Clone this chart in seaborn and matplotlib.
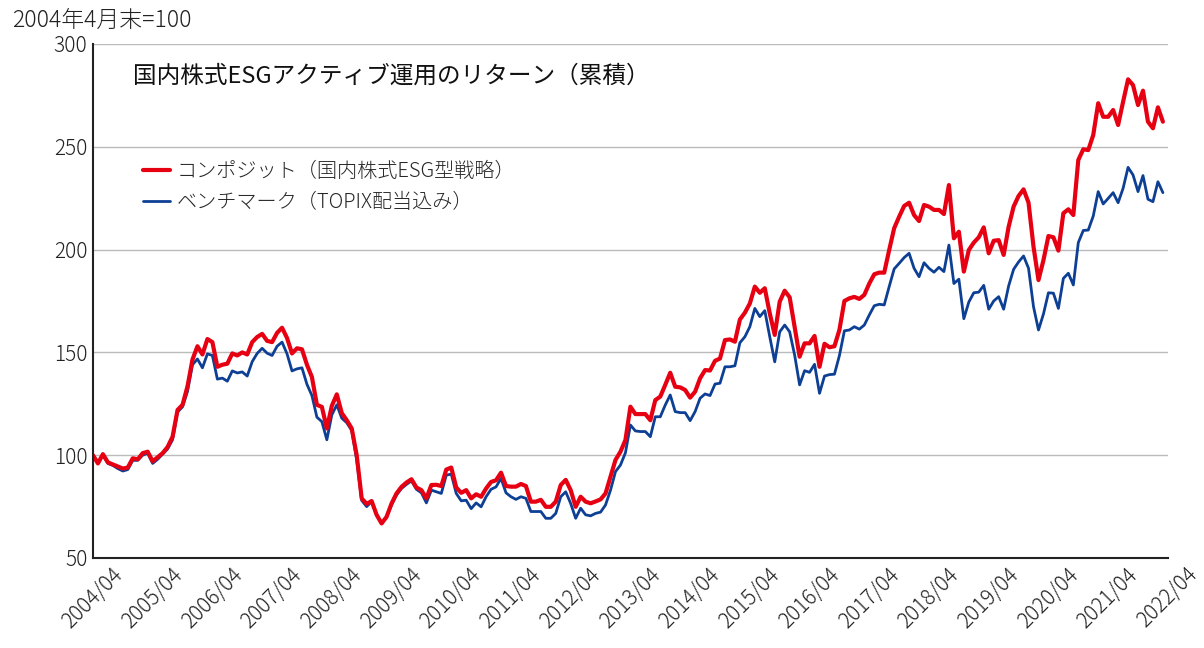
import numpy as np
import pandas as pd
import matplotlib
matplotlib.use('Agg')
import matplotlib.pyplot as plt
import seaborn as sns

# 月次の累積リターン（2004/04 = 100）、2004/04〜2022/03
composite = [
    100, 96, 100.5, 96.5, 95.5, 94.5, 93.5, 94, 98.5, 98, 101, 101.7,
    97, 99, 101, 104, 109, 122, 124.5, 133.5, 146.5, 153, 149, 156.5,
    155, 143, 144, 144.5, 149.5, 148.5, 150, 149, 155, 157.5, 159, 155.6,
    155, 159.5, 162, 157, 149.5, 152, 151.5, 144, 138, 124.5, 123.5, 113,
    124, 129.6, 120.5, 117, 113, 100, 79, 76.3, 77.7, 71, 66.8, 70,
    76.5, 81.4, 84.6, 86.7, 88.3, 84.3, 83, 79, 85.5, 85.6, 85, 93,
    94, 84.3, 81.7, 83, 79, 81, 79.8, 83.8, 87, 87.8, 91.5, 85,
    84.7, 84.7, 86, 85, 77.4, 77.4, 78.3, 74.9, 74.9, 77.4, 85.5, 88,
    83, 74.9, 79.8, 77.4, 76.6, 77.5, 78.5, 81.4, 89.5, 97.7, 101.7, 107.4,
    123.6, 120, 120, 120, 117, 126.8, 128.5, 134.2, 140.1, 133.3, 133, 131.7,
    128, 130.9, 137.4, 141.4, 141.2, 145.9, 147, 156, 156.3, 155.2, 166, 169.3,
    173.8, 182, 179, 181.2, 169, 158.5, 174.7, 180, 176.8, 162.5, 147.9, 154.4,
    154.4, 158, 143, 154.2, 152.5, 153, 161, 175, 176.3, 177, 176, 178,
    183.5, 188, 188.8, 188.8, 199.8, 210.4, 216, 221.2, 222.8, 216.8, 213.9, 221.7,
    220.9, 219.3, 219.3, 217.3, 231.4, 205.5, 208.7, 189.3, 199.8, 203.4, 206, 210.8,
    198.2, 204.3, 204.6, 197.4, 211.1, 220.9, 226.1, 229.3, 222.8, 201.4, 185.2, 194.9,
    206.6, 206, 199.5, 217.7, 219.6, 216.8, 243.6, 248.8, 248.4, 255.7, 271.2, 264.6,
    264.6, 267.9, 260.6, 271.9, 282.8, 280, 270.3, 277.3, 262.2, 259, 269.2, 262.2,
]
benchmark = [
    100, 96.5, 100, 96, 95, 93.5, 92.3, 93, 97.5, 97.5, 100, 101,
    96, 98, 100.5, 103, 107.5, 121, 123.5, 131, 144, 146.8, 142.5, 149.3,
    148.5, 137, 137.5, 136, 141, 140, 140.5, 138.5, 145.5, 149.5, 152, 149.6,
    148.5, 153, 155, 149.3, 141, 142, 142.5, 134.5, 129, 118.5, 116.3, 107.5,
    119.6, 124.5, 118, 115.8, 112, 97.7, 78, 75, 77.4, 71, 67, 70,
    75.8, 80.6, 83.8, 85.8, 87.5, 83.4, 81.7, 76.8, 83, 82.2, 81.4, 90.3,
    90.8, 81.4, 77.8, 78.1, 74, 76.8, 74.9, 79.8, 83.4, 84.6, 88.7, 81.7,
    79.8, 78.5, 79.8, 79, 72.6, 72.6, 72.6, 69.3, 69.3, 71.7, 79.8, 82.2,
    76.5, 69.3, 74.2, 71, 70.5, 71.7, 72.3, 75.8, 83, 92, 95.2, 101.2,
    114.7, 111.8, 111.5, 111.5, 109, 118.7, 118.7, 124.4, 129.3, 121.2, 120.7, 120.7,
    116.8, 121.2, 127.7, 129.8, 129, 134.6, 135, 143, 143, 143.5, 154.7, 157.6,
    162.5, 171.4, 167.4, 170.3, 157.6, 145.4, 160, 163.3, 160, 148.7, 134.2, 141.1,
    140.3, 144.2, 130.1, 138.5, 139.2, 139.4, 148.5, 160.5, 160.9, 162.5, 161.3, 163.3,
    168.2, 172.7, 173.4, 173.1, 182, 190.6, 193.3, 196.1, 198.2, 190.9, 186.8, 193.6,
    190.9, 189, 191.4, 189.3, 202.2, 183.5, 185.6, 166.4, 174.5, 179, 179.3, 182.6,
    171, 175, 177.1, 171, 182.3, 190.4, 194, 196.9, 190.9, 172.2, 160.9, 168.7,
    179, 178.8, 171.4, 186, 188.5, 182.8, 203.4, 209.3, 209.5, 216.3, 228.2, 222.2,
    224.9, 227.7, 222.8, 229.8, 240, 236.3, 228.2, 236, 224.5, 223.3, 233, 227.7,
]
tick_labels = [f'{y}/04' for y in range(2004, 2023)]
y_ticks = [50, 100, 150, 200, 250, 300]

LABEL_COMP = 'コンポジット（国内株式ESG型戦略）'
LABEL_BM = 'ベンチマーク（TOPIX配当込み）'

df = pd.DataFrame({
    'month': np.arange(len(composite)),
    'composite': composite,
    'benchmark': benchmark,
})

sns.set_theme(style='white')
plt.rcParams['font.family'] = ['Noto Sans CJK JP', 'DejaVu Sans']
plt.rcParams['font.weight'] = 'light'

fig = plt.figure(figsize=(12.04, 6.48), dpi=100)
ax = fig.add_axes([0.0772, 0.1389, 0.8928, 0.7932])

sns.lineplot(data=df, x='month', y='benchmark', color='#0D3F94', linewidth=2.0,
             ax=ax, label=LABEL_BM)
sns.lineplot(data=df, x='month', y='composite', color='#E60012', linewidth=3.0,
             ax=ax, label=LABEL_COMP)

ax.set_xlim(0, 216)
ax.set_ylim(50, 300)
ax.set_xticks(np.arange(0, 217, 12))
ax.set_xticklabels(tick_labels, rotation=45, ha='center', fontsize=15,
                   color='#222222', fontweight='light')
ax.set_yticks(y_ticks)
ax.set_yticklabels([str(v) for v in y_ticks], fontsize=15, color='#222222',
                   fontweight='light')
ax.tick_params(axis='both', length=0, pad=4)
ax.set_xlabel('')
ax.set_ylabel('')

ax.grid(axis='y', color='#BBBBBB', linewidth=1.0)
ax.grid(axis='x', visible=False)
ax.set_axisbelow(True)
for s in ['top', 'right']:
    ax.spines[s].set_visible(False)
for s in ['left', 'bottom']:
    ax.spines[s].set_color('#222222')
    ax.spines[s].set_linewidth(1.5)

# 凡例（赤を上に）
handles, labels = ax.get_legend_handles_labels()
order = [labels.index(LABEL_COMP), labels.index(LABEL_BM)]
ax.legend([handles[i] for i in order], [labels[i] for i in order],
          loc='upper left', bbox_to_anchor=(0.030, 0.808), frameon=False,
          prop={'size': 14.5, 'weight': 'light'}, handlelength=1.3,
          handletextpad=0.35, labelspacing=0.5)

ax.text(0.037, 0.938, '国内株式ESGアクティブ運用のリターン（累積）',
        transform=ax.transAxes, fontsize=17, va='center', ha='left',
        color='#111111', fontweight='normal')
fig.text(0.01, 0.968, '2004年4月末=100', fontsize=16.5, va='center', ha='left',
         color='#222222', fontweight='light')

fig.savefig('out.png', dpi=100)
